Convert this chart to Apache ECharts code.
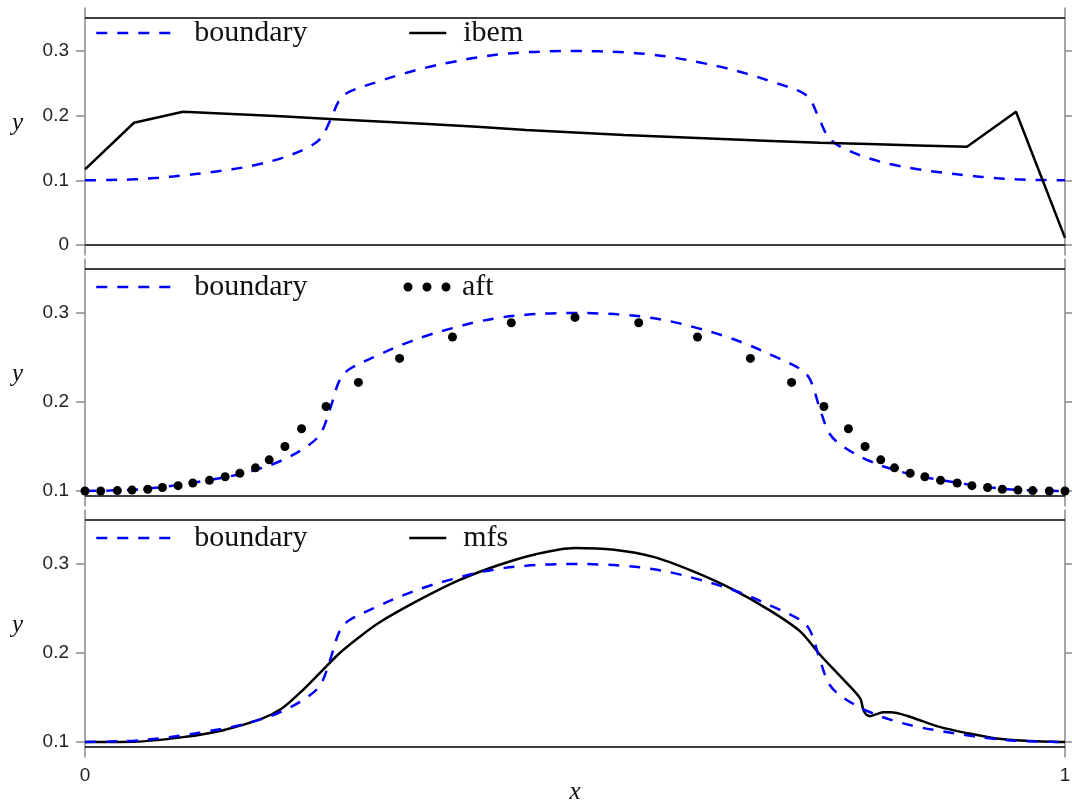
<!DOCTYPE html>
<html>
<head>
<meta charset="utf-8">
<script src="https://cdn.jsdelivr.net/npm/echarts@6/dist/echarts.min.js"></script>
<style>
  html, body { margin: 0; padding: 0; background: #ffffff; }
  #chart { width: 1072px; height: 802px; }
</style>
</head>
<body>
<div id="chart"></div>
<script>
// ---------------- data ----------------
const boundaryX = [0, 0.025, 0.05, 0.075, 0.1, 0.125, 0.15, 0.175, 0.2, 0.225, 0.24, 0.25, 0.26, 0.27, 0.3, 0.325, 0.35, 0.375, 0.4, 0.425, 0.45, 0.475, 0.5,
  0.525, 0.55, 0.575, 0.6, 0.625, 0.65, 0.675, 0.7, 0.73, 0.74, 0.75, 0.76, 0.775, 0.8, 0.825, 0.85, 0.875, 0.9, 0.925, 0.95, 0.975, 1];
const boundaryY = [0.100, 0.1005, 0.1015, 0.104, 0.1075, 0.112, 0.117, 0.124, 0.134, 0.149, 0.164, 0.192, 0.225, 0.237, 0.253, 0.265, 0.275, 0.283, 0.290, 0.295, 0.298, 0.2995, 0.300,
  0.2995, 0.298, 0.295, 0.290, 0.283, 0.275, 0.265, 0.253, 0.237, 0.225, 0.192, 0.164, 0.149, 0.134, 0.124, 0.117, 0.112, 0.1075, 0.104, 0.1015, 0.1005, 0.100];

const ibemX = [0, 0.05, 0.1, 0.15, 0.2, 0.25, 0.3, 0.35, 0.4, 0.45, 0.5, 0.55, 0.6, 0.65, 0.7, 0.75, 0.8, 0.85, 0.9, 0.95, 1];
const ibemY = [0.117, 0.189, 0.206, 0.2025, 0.199, 0.195, 0.191, 0.187, 0.183, 0.178, 0.174, 0.170, 0.167, 0.164, 0.161, 0.158, 0.156, 0.154, 0.152, 0.206, 0.011];

const aftX = [0, 0.016, 0.033, 0.048, 0.064, 0.079, 0.095, 0.110, 0.127, 0.143, 0.158, 0.174, 0.188, 0.204, 0.221, 0.246, 0.279, 0.321, 0.375, 0.435, 0.5,
  0.565, 0.625, 0.679, 0.721, 0.754, 0.779, 0.796, 0.812, 0.826, 0.842, 0.857, 0.873, 0.890, 0.905, 0.921, 0.936, 0.952, 0.967, 0.984, 1];
const aftY = [0.1, 0.1, 0.1005, 0.101, 0.102, 0.104, 0.106, 0.109, 0.112, 0.116, 0.120, 0.126, 0.135, 0.150, 0.170, 0.195, 0.222, 0.249, 0.273, 0.289, 0.295,
  0.289, 0.273, 0.249, 0.222, 0.195, 0.170, 0.150, 0.135, 0.126, 0.120, 0.116, 0.112, 0.109, 0.106, 0.104, 0.102, 0.101, 0.1005, 0.1, 0.1];

const mfsX = [0, 0.05, 0.1, 0.14, 0.18, 0.2, 0.22, 0.24, 0.26, 0.28, 0.3, 0.34, 0.38, 0.42, 0.46, 0.5, 0.54, 0.58, 0.62, 0.66, 0.7, 0.73, 0.75, 0.774,
  0.791, 0.794, 0.797, 0.801, 0.807, 0.815, 0.822, 0.84, 0.872, 0.9, 0.93, 0.96, 1];
const mfsY = [0.1, 0.1003, 0.1055, 0.113, 0.126, 0.137, 0.156, 0.178, 0.200, 0.218, 0.234, 0.259, 0.281, 0.298, 0.311, 0.318, 0.316, 0.308, 0.292, 0.272, 0.247, 0.224, 0.198, 0.170,
  0.149, 0.137, 0.131, 0.129, 0.131, 0.1334, 0.1334, 0.129, 0.117, 0.110, 0.104, 0.1015, 0.1];

const yTicksTop = [0, 0.1, 0.2, 0.3];
const yTicksLower = [0.1, 0.2, 0.3];
const xTicks = [0, 1];
const panelRanges = [[0, 0.351], [0.0944, 0.3494], [0.0944, 0.3494]];

// ---------------- layout ----------------
const PANEL_TOP = [18, 269, 520];
const PANEL_H = 227;
const EXT = 10;
const LEFT = 85, RIGHT = 7;
const BLUE = '#0000ff';
const GRAY = '#8a8a8a';
const DASH = [11, 10];
const SERIF = 'Liberation Serif';
const SANS = 'Liberation Sans';

const pairs = (xs, ys) => xs.map((x, i) => [x, ys[i]]);

const grids = [], xAxes = [], yAxes = [], series = [], legends = [];

function fmt(v) { return String(+(+v).toFixed(2)); }

for (let i = 0; i < 3; i++) {
  const [lo, hi] = panelRanges[i];
  const ext = EXT * (hi - lo) / PANEL_H;
  const ticks = i === 0 ? yTicksTop : yTicksLower;
  grids.push({ left: LEFT, right: RIGHT, top: PANEL_TOP[i] - EXT, height: PANEL_H + 2 * EXT, containLabel: false, outerBoundsMode: 'none' });
  xAxes.push({
    type: 'value', gridIndex: i, min: 0, max: 1,
    axisLine: { show: false, onZero: false }, axisTick: { show: false }, splitLine: { show: false },
    axisLabel: i === 2 ? { show: true, customValues: xTicks, margin: 9, fontSize: 19, fontFamily: SANS, color: '#222', formatter: fmt } : { show: false },
    name: i === 2 ? 'x' : '', nameLocation: 'middle', nameGap: 23, nameMoveOverlap: false,
    nameTextStyle: { fontFamily: SERIF, fontStyle: 'italic', fontSize: 25, color: '#111' }
  });
  yAxes.push({
    type: 'value', gridIndex: i, position: 'left', min: lo - ext, max: hi + ext,
    axisLine: { show: true, lineStyle: { color: GRAY, width: 1.5 } },
    axisTick: { show: true, inside: false, length: 9, customValues: ticks, lineStyle: { color: GRAY, width: 1.5 } },
    axisLabel: { show: true, customValues: ticks, margin: 16, fontSize: 19, fontFamily: SANS, color: '#222', formatter: fmt },
    splitLine: { show: false },
    name: 'y', nameLocation: 'middle', nameRotate: 0, nameGap: 62, nameMoveOverlap: false,
    nameTextStyle: { fontFamily: SERIF, fontStyle: 'italic', fontSize: 25, color: '#111', verticalAlign: 'bottom', lineHeight: 16 }
  });
  yAxes.push({
    type: 'value', gridIndex: i, position: 'right', min: lo - ext, max: hi + ext,
    axisLine: { show: true, lineStyle: { color: GRAY, width: 1.5 } },
    axisTick: { show: true, inside: false, length: 7, customValues: ticks, lineStyle: { color: GRAY, width: 1.5 } },
    axisLabel: { show: false },
    splitLine: { show: false }
  });
}

const borderLine = (i) => ({
  silent: true, symbol: ['none', 'none'], label: { show: false }, precision: 6,
  lineStyle: { color: '#000', width: 1.5, type: 'solid' },
  data: [{ yAxis: panelRanges[i][0] }, { yAxis: panelRanges[i][1] }]
});

const boundarySeries = (i, z) => ({
  name: 'boundary' + (i + 1), type: 'line', xAxisIndex: i, yAxisIndex: 2 * i,
  data: pairs(boundaryX, boundaryY), smooth: 0.35, symbol: 'none', showSymbol: false, z: z,
  lineStyle: { color: BLUE, width: 2.5, type: DASH }, itemStyle: { color: BLUE },
  markLine: borderLine(i)
});

// panel 1
series.push(boundarySeries(0, 2));
series.push({ name: 'ibem', type: 'line', xAxisIndex: 0, yAxisIndex: 0, data: pairs(ibemX, ibemY),
  symbol: 'none', showSymbol: false, z: 3, lineStyle: { color: '#000', width: 2.5 }, itemStyle: { color: '#000' } });
// panel 2
series.push(boundarySeries(1, 2));
series.push({ name: 'aft', type: 'scatter', xAxisIndex: 1, yAxisIndex: 2, data: pairs(aftX, aftY),
  symbol: 'circle', symbolSize: 9, z: 4, itemStyle: { color: '#000', opacity: 1 } });
// panel 3
series.push({ name: 'mfs', type: 'line', xAxisIndex: 2, yAxisIndex: 4, data: pairs(mfsX, mfsY),
  smooth: 0.3, symbol: 'none', showSymbol: false, z: 2, lineStyle: { color: '#000', width: 2.5 }, itemStyle: { color: '#000' } });
series.push(boundarySeries(2, 3));

const LEG_CENTER = [33, 287, 538];
const legendText = (pad) => ({ fontFamily: SERIF, fontSize: 30, color: '#111', lineHeight: 30, padding: [4, 0, 0, pad] });
const threeDots = 'path://M0,4.5a4.5,4.5 0 1,0 9,0a4.5,4.5 0 1,0 -9,0zM19,4.5a4.5,4.5 0 1,0 9,0a4.5,4.5 0 1,0 -9,0zM38,4.5a4.5,4.5 0 1,0 9,0a4.5,4.5 0 1,0 -9,0z';
const second = ['ibem', 'aft', 'mfs'];
for (let i = 0; i < 3; i++) {
  legends.push({
    left: 95, top: LEG_CENTER[i] - 17, padding: 0, data: ['boundary' + (i + 1)], formatter: () => 'boundary',
    itemWidth: 77, itemHeight: 14, selectedMode: false, textStyle: legendText(16),
    itemStyle: { opacity: 0 },
    lineStyle: { width: 2.5, type: DASH, color: BLUE, opacity: 1 }
  });
  if (second[i] === 'aft') {
    legends.push({
      left: 403.5, top: LEG_CENTER[i] - 17, padding: 0, data: [{ name: 'aft', icon: threeDots }],
      itemWidth: 47, itemHeight: 9, selectedMode: false, textStyle: legendText(6.5),
      itemStyle: { color: '#000', opacity: 1 }
    });
  } else {
    legends.push({
      left: 408, top: LEG_CENTER[i] - 17, padding: 0, data: [second[i]],
      itemWidth: 37, itemHeight: 14, selectedMode: false, textStyle: legendText(12),
      itemStyle: { opacity: 0 },
      lineStyle: { width: 2.5, type: 'solid', color: '#000', opacity: 1 }
    });
  }
}

const chart = echarts.init(document.getElementById('chart'), null, { renderer: 'canvas' });
chart.setOption({
  backgroundColor: '#ffffff',
  animation: false,
  grid: grids,
  xAxis: xAxes,
  yAxis: yAxes,
  legend: legends,
  series: series
});
</script>
</body>
</html>
